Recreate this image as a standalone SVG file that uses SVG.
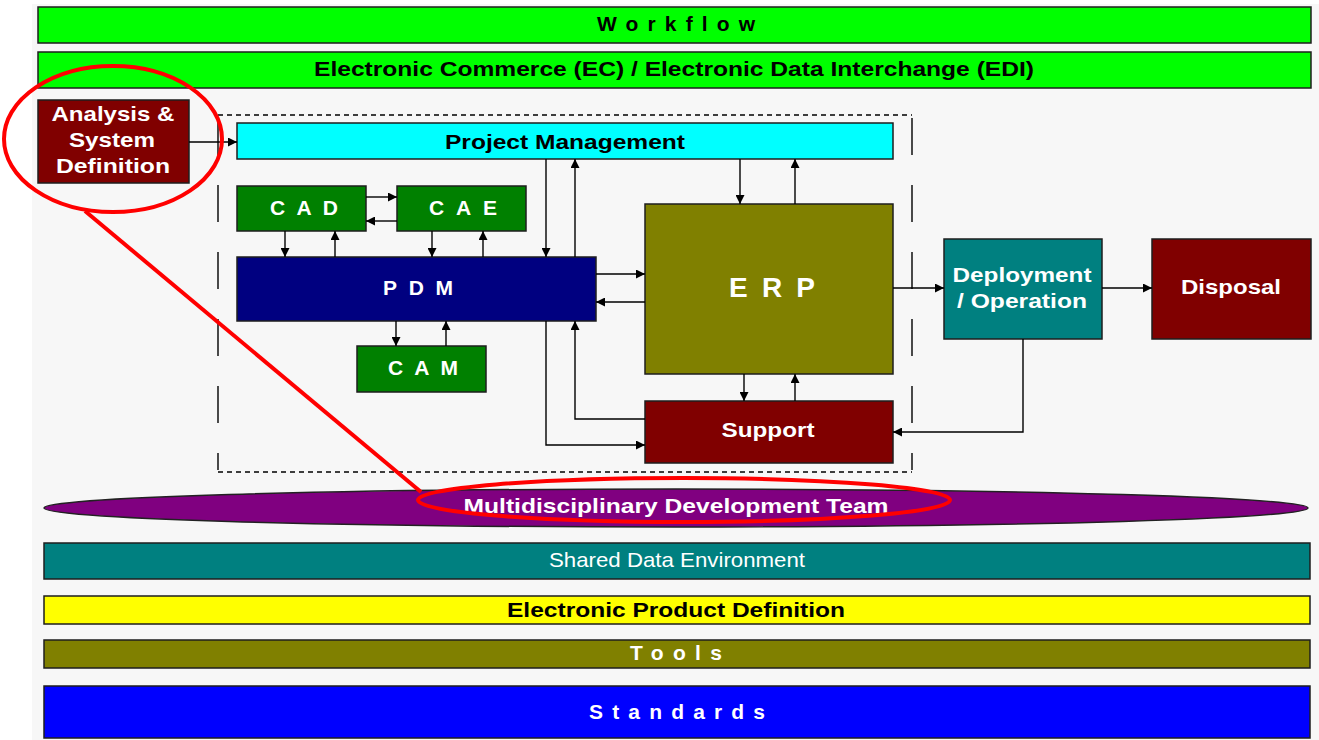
<svg xmlns="http://www.w3.org/2000/svg" width="1319" height="740" viewBox="0 0 1319 740">
<style>
.box{stroke:#1e1e1e;stroke-width:1.5}
.t{font-family:"Liberation Sans",Arial,sans-serif;font-weight:bold;text-anchor:middle}
.w{fill:#ffffff}
.k{fill:#000000}
.c{fill:none;stroke:#000;stroke-width:1.4}
.dash{fill:none;stroke:#000;stroke-width:1.4}
.red{fill:none;stroke:#ff0000;stroke-width:4}
</style>
<defs>
<marker id="ah" viewBox="0 0 10 10" refX="10" refY="5" markerWidth="11" markerHeight="9" markerUnits="userSpaceOnUse" orient="auto">
<path d="M0,0 L10,5 L0,10 z" fill="#000"/>
</marker>
</defs>
<rect x="0" y="0" width="1319" height="740" fill="#ffffff"/>
<rect x="32" y="4" width="1287" height="736" fill="#f7f7f7"/>

<g id="workflow"><rect class="box" x="38" y="7" width="1273" height="36" fill="#00ff00"/><text class="t k" x="676" y="31" font-size="21" textLength="158" lengthAdjust="spacing">Workflow</text></g>
<g id="ecedi"><rect class="box" x="38" y="52" width="1273" height="36" fill="#00ff00"/><text class="t k" x="674" y="76" font-size="21" textLength="720" lengthAdjust="spacingAndGlyphs">Electronic Commerce (EC) / Electronic Data Interchange (EDI)</text></g>

<g id="analysis"><rect class="box" x="38" y="100" width="151" height="83" fill="#800000"/>
<text class="t w" x="113" y="121" font-size="21" textLength="123" lengthAdjust="spacingAndGlyphs">Analysis &amp;</text>
<text class="t w" x="112" y="147" font-size="21" textLength="86" lengthAdjust="spacingAndGlyphs">System</text>
<text class="t w" x="113" y="173" font-size="21" textLength="114" lengthAdjust="spacingAndGlyphs">Definition</text></g>

<g id="boundary">
<line class="dash" x1="218" y1="115" x2="912" y2="115" stroke-dasharray="5,4"/>
<line class="dash" x1="218" y1="472" x2="912" y2="472" stroke-dasharray="5,4"/>
<line class="dash" x1="218" y1="118" x2="218" y2="470" stroke-dasharray="37,30"/>
<line class="dash" x1="912" y1="118" x2="912" y2="470" stroke-dasharray="37,30"/>
</g>

<g id="pm"><rect class="box" x="237" y="123" width="656" height="36" fill="#00ffff"/><text class="t k" x="565" y="149" font-size="21" textLength="240" lengthAdjust="spacingAndGlyphs">Project Management</text></g>
<g id="cad"><rect class="box" x="237" y="186" width="129" height="45" fill="#008000"/><text class="t w" x="304" y="215" font-size="21" textLength="68" lengthAdjust="spacing">CAD</text></g>
<g id="cae"><rect class="box" x="397" y="186" width="129" height="45" fill="#008000"/><text class="t w" x="463" y="215" font-size="21" textLength="68" lengthAdjust="spacing">CAE</text></g>
<g id="pdm"><rect class="box" x="237" y="257" width="359" height="64" fill="#000080"/><text class="t w" x="418" y="295" font-size="21" textLength="70" lengthAdjust="spacing">PDM</text></g>
<g id="cam"><rect class="box" x="357" y="346" width="129" height="46" fill="#008000"/><text class="t w" x="423" y="375" font-size="21" textLength="70" lengthAdjust="spacing">CAM</text></g>
<g id="erp"><rect class="box" x="645" y="204" width="248" height="170" fill="#808000"/><text class="t w" x="772" y="297" font-size="28" textLength="86" lengthAdjust="spacing">ERP</text></g>
<g id="support"><rect class="box" x="645" y="401" width="248" height="62" fill="#800000"/><text class="t w" x="768" y="437" font-size="21" textLength="93" lengthAdjust="spacingAndGlyphs">Support</text></g>
<g id="deployment"><rect class="box" x="944" y="239" width="158" height="100" fill="#008080"/>
<text class="t w" x="1022" y="282" font-size="21" textLength="139" lengthAdjust="spacingAndGlyphs">Deployment</text>
<text class="t w" x="1022" y="308" font-size="21" textLength="130" lengthAdjust="spacingAndGlyphs">/ Operation</text></g>
<g id="disposal"><rect class="box" x="1152" y="239" width="159" height="100" fill="#800000"/><text class="t w" x="1231" y="294" font-size="21" textLength="100" lengthAdjust="spacingAndGlyphs">Disposal</text></g>

<g id="connectors">
<line class="c" x1="189" y1="142" x2="237" y2="142" marker-end="url(#ah)"/>
<line class="c" x1="366" y1="197" x2="397" y2="197" marker-end="url(#ah)"/>
<line class="c" x1="397" y1="221" x2="366" y2="221" marker-end="url(#ah)"/>
<line class="c" x1="285" y1="231" x2="285" y2="257" marker-end="url(#ah)"/>
<line class="c" x1="335" y1="257" x2="335" y2="231" marker-end="url(#ah)"/>
<line class="c" x1="432" y1="231" x2="432" y2="257" marker-end="url(#ah)"/>
<line class="c" x1="483" y1="257" x2="483" y2="231" marker-end="url(#ah)"/>
<line class="c" x1="546" y1="159" x2="546" y2="257" marker-end="url(#ah)"/>
<line class="c" x1="575" y1="257" x2="575" y2="159" marker-end="url(#ah)"/>
<line class="c" x1="396" y1="321" x2="396" y2="346" marker-end="url(#ah)"/>
<line class="c" x1="446" y1="346" x2="446" y2="321" marker-end="url(#ah)"/>
<line class="c" x1="596" y1="274" x2="645" y2="274" marker-end="url(#ah)"/>
<line class="c" x1="645" y1="302" x2="596" y2="302" marker-end="url(#ah)"/>
<line class="c" x1="740" y1="159" x2="740" y2="204" marker-end="url(#ah)"/>
<line class="c" x1="795" y1="204" x2="795" y2="159" marker-end="url(#ah)"/>
<line class="c" x1="744" y1="374" x2="744" y2="401" marker-end="url(#ah)"/>
<line class="c" x1="795" y1="401" x2="795" y2="374" marker-end="url(#ah)"/>
<polyline class="c" points="645,419 575,419 575,321" marker-end="url(#ah)"/>
<polyline class="c" points="546,321 546,445 645,445" marker-end="url(#ah)"/>
<line class="c" x1="893" y1="288" x2="944" y2="288" marker-end="url(#ah)"/>
<line class="c" x1="1102" y1="288" x2="1152" y2="288" marker-end="url(#ah)"/>
<polyline class="c" points="1023,339 1023,432 893,432" marker-end="url(#ah)"/>
</g>

<g id="team"><ellipse cx="676" cy="508" rx="632" ry="19" fill="#800080" stroke="#222" stroke-width="1.5"/><text class="t w" x="676" y="513" font-size="21" textLength="425" lengthAdjust="spacingAndGlyphs">Multidisciplinary Development Team</text></g>
<g id="shared"><rect class="box" x="44" y="543" width="1266" height="36" fill="#008080"/><text class="t w" x="677" y="567" font-size="21" style="font-weight:normal" textLength="256" lengthAdjust="spacingAndGlyphs">Shared Data Environment</text></g>
<g id="epd"><rect class="box" x="44" y="596" width="1266" height="28" fill="#ffff00"/><text class="t k" x="676" y="617" font-size="21" textLength="338" lengthAdjust="spacingAndGlyphs">Electronic Product Definition</text></g>
<g id="tools"><rect class="box" x="44" y="640" width="1266" height="28" fill="#808000"/><text class="t w" x="676" y="660" font-size="21" textLength="92" lengthAdjust="spacing">Tools</text></g>
<g id="standards"><rect class="box" x="44" y="686" width="1266" height="52" fill="#0000ff"/><text class="t w" x="677" y="719" font-size="21" textLength="176" lengthAdjust="spacing">Standards</text></g>

<g id="annotation">
<ellipse class="red" cx="113" cy="139" rx="109" ry="73"/>
<line class="red" x1="85" y1="211" x2="421" y2="492"/>
<ellipse class="red" cx="684" cy="500" rx="266" ry="22"/>
</g>
</svg>
